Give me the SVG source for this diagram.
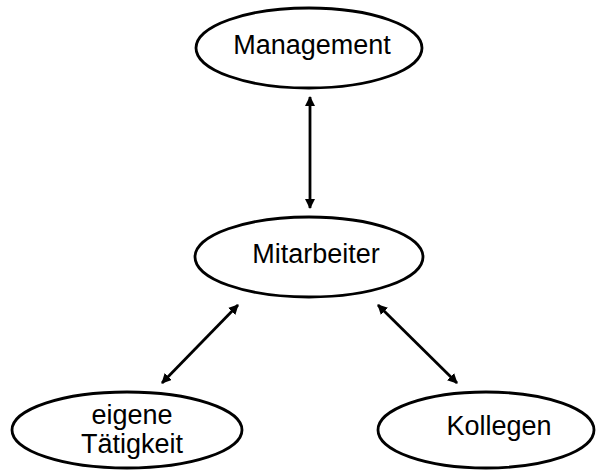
<svg xmlns="http://www.w3.org/2000/svg" width="597" height="470" viewBox="0 0 597 470">
<defs>
<marker id="ah" viewBox="0 0 10 10" refX="9" refY="5" markerWidth="3.6" markerHeight="3.6" orient="auto-start-reverse" markerUnits="strokeWidth">
<path d="M0,0 L10,5 L0,10 z" fill="#000"/>
</marker>
<style>
.n{fill:#fff;stroke:#000;stroke-width:2.8}
.t{font-family:"Liberation Sans",Arial,sans-serif;font-size:27px;fill:#000;text-anchor:middle}
.c{stroke:#000;stroke-width:2.8;fill:none;marker-start:url(#ah);marker-end:url(#ah)}
</style>
</defs>
<rect width="597" height="470" fill="#fff"/>
<g id="connectors">
<line class="c" x1="310" y1="97" x2="310" y2="208"/>
<line class="c" x1="238" y1="305" x2="162" y2="383"/>
<line class="c" x1="378" y1="305" x2="457" y2="383"/>
</g>
<g id="management">
<ellipse class="n" cx="309" cy="48" rx="113" ry="40"/>
<text class="t" x="312" y="54">Management</text>
</g>
<g id="mitarbeiter">
<ellipse class="n" cx="309" cy="257" rx="114" ry="40"/>
<text class="t" x="316" y="263">Mitarbeiter</text>
</g>
<g id="eigene">
<ellipse class="n" cx="127" cy="430" rx="115" ry="38"/>
<text class="t" x="132" y="424">eigene</text>
<text class="t" x="132" y="453">Tätigkeit</text>
</g>
<g id="kollegen">
<ellipse class="n" cx="486" cy="430" rx="108" ry="38"/>
<text class="t" x="499" y="435">Kollegen</text>
</g>
</svg>
